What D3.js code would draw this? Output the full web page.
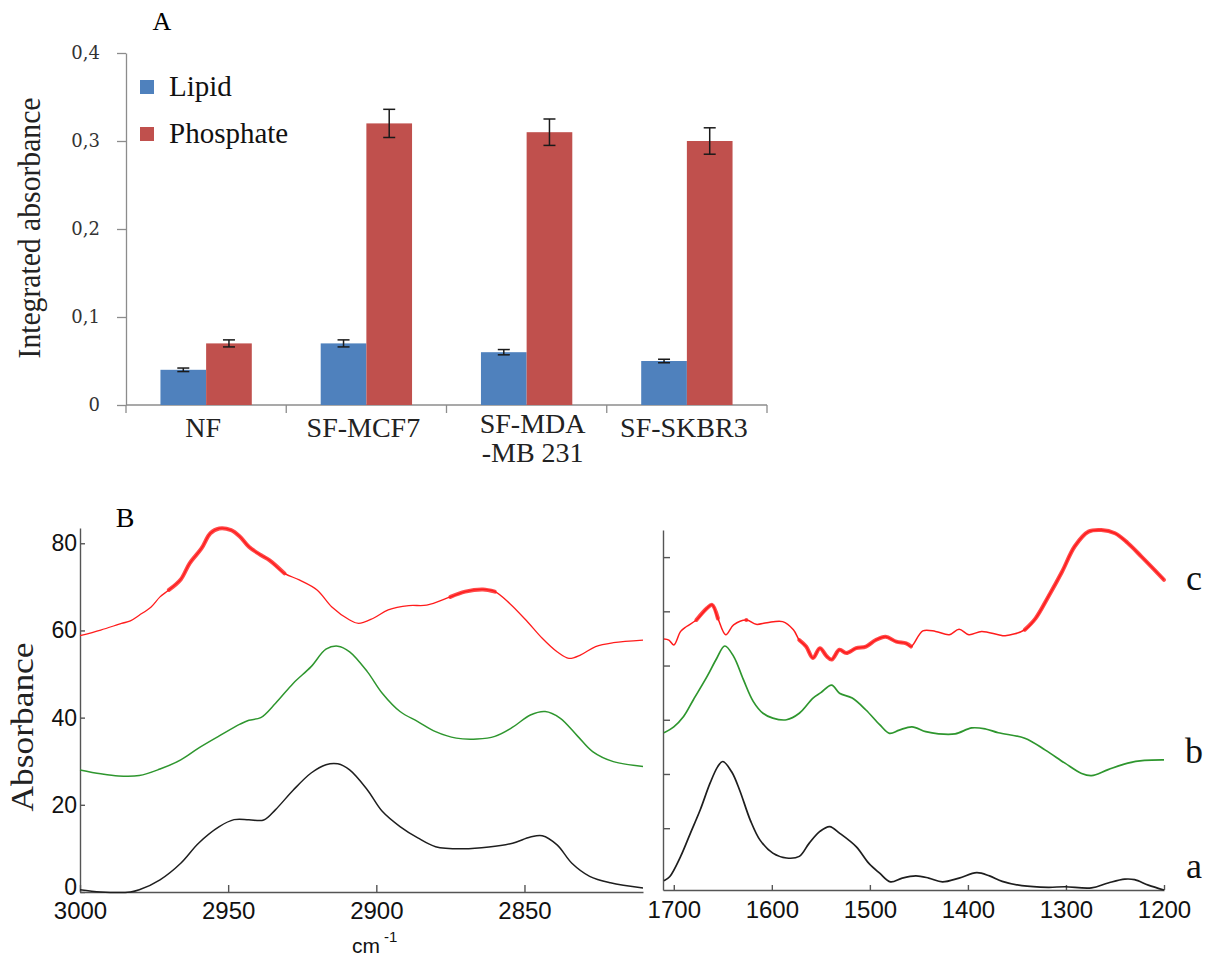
<!DOCTYPE html>
<html>
<head>
<meta charset="utf-8">
<script src="https://cdn.jsdelivr.net/npm/d3@7"></script>
<style>
body { margin: 0; background: #fff; }
svg { display: block; }
.serif { font-family: "Liberation Serif", "Times New Roman", serif; }
.sans { font-family: "Liberation Sans", Arial, sans-serif; }
.axA path, .axA line { stroke: #8c8c8c; stroke-width: 1.3; }
.axA text { font-family: "DejaVu Serif", serif; font-size: 18px; fill: #333; }
.axB path, .axB line { stroke: #555; stroke-width: 1.4; }
.axB text { font-family: "Liberation Sans", Arial, sans-serif; fill: #111; }
</style>
</head>
<body>
<div id="chart"></div>
<script>
// panel A : integrated absorbance
var categories = ["NF", "SF-MCF7", "SF-MDA-MB 231", "SF-SKBR3"];
var catLabels = [["NF"], ["SF-MCF7"], ["SF-MDA", "-MB 231"], ["SF-SKBR3"]];
var seriesNames = ["Lipid", "Phosphate"];
var seriesColors = ["#4f81bd", "#c0504d"];
var lipid = [0.04, 0.07, 0.06, 0.05];
var lipidErr = [0.002, 0.004, 0.003, 0.002];
var phosphate = [0.07, 0.32, 0.31, 0.30];
var phosphateErr = [0.004, 0.016, 0.015, 0.015];
var yTicksA = [0, 0.1, 0.2, 0.3, 0.4];

// panel B : spectra, [wavenumber, absorbance]
// CH stretching region (left)
var a_CH = [[3000,0.5],[2993,0],[2983,0],[2980,0.5],[2973,2.8],[2966,6.6],[2960,11.2],[2953,15.0],[2948,16.6],[2943,16.6],[2938,16.5],[2934,18.9],[2928,23.4],[2922,27.3],[2917,29.2],[2913,29.4],[2909,28.0],[2903,23.4],[2898,18.5],[2892,15.0],[2886,12.4],[2880,10.4],[2871,9.9],[2862,10.3],[2854,11.2],[2848,12.6],[2844,12.9],[2839,10.8],[2834,6.6],[2828,3.6],[2821,2.1],[2810,0.9]];
var b_CH = [[3000,28.0],[2993,27.1],[2987,26.6],[2980,26.7],[2973,28.2],[2966,30.3],[2960,33.0],[2953,35.8],[2946,38.5],[2943,39.4],[2939,40.0],[2934,43.3],[2928,47.9],[2922,51.7],[2917,55.7],[2913,56.4],[2909,55.1],[2903,50.5],[2898,45.6],[2892,41.4],[2886,39.1],[2880,36.8],[2873,35.3],[2866,35.1],[2860,35.7],[2854,37.8],[2848,40.6],[2843,41.4],[2838,39.9],[2832,35.7],[2827,32.2],[2820,29.9],[2810,28.8]];
var c_CH = [[3000,58.8],[2993,60.1],[2986,61.6],[2983,62.2],[2980,63.5],[2976,65.4],[2973,67.7],[2970,69.3],[2966,71.7],[2963,75.4],[2959,78.8],[2956,82.3],[2953,83.4],[2949,83.0],[2946,81.5],[2943,79.2],[2939,77.3],[2936,76.1],[2931,73.1],[2926,71.6],[2920,69.3],[2915,65.4],[2909,62.4],[2906,61.6],[2901,62.8],[2896,64.7],[2889,65.7],[2883,65.8],[2875,67.7],[2870,68.9],[2864,69.4],[2860,68.9],[2855,66.2],[2849,62.0],[2844,58.2],[2839,55.1],[2835,53.6],[2831,54.4],[2826,56.3],[2820,57.2],[2810,57.8]];
// fingerprint region (right)
var a_FP = [[1710,0.3],[1704,1.1],[1693,4.8],[1683,9.1],[1673,13.4],[1663,18.3],[1655,21.4],[1650,22.3],[1641,20.4],[1633,17.1],[1622,11.5],[1612,7.8],[1599,5.4],[1585,4.5],[1572,4.8],[1562,7.2],[1551,9.4],[1541,10.3],[1531,9.1],[1514,6.6],[1501,3.5],[1490,1.7],[1479,0.1],[1467,0.8],[1453,1.2],[1440,0.8],[1426,0.1],[1409,0.8],[1391,1.8],[1378,1.2],[1365,0.2],[1345,-0.6],[1318,-0.9],[1301,-0.8],[1274,-1.0],[1257,-0.1],[1240,0.6],[1230,0.5],[1216,-0.5],[1200,-1.4]];
var b_FP = [[1710,27.6],[1700,28.7],[1690,30.6],[1680,33.7],[1666,38.0],[1656,41.4],[1648,43.6],[1639,41.7],[1629,37.4],[1619,33.4],[1609,31.2],[1599,30.3],[1585,30.0],[1572,31.2],[1558,34.0],[1550,35.0],[1539,36.4],[1531,34.9],[1518,34.0],[1504,31.8],[1490,29.1],[1480,27.5],[1470,28.1],[1457,28.7],[1443,27.8],[1430,27.4],[1413,27.4],[1396,28.5],[1382,28.3],[1369,27.6],[1342,26.6],[1321,24.4],[1301,22.0],[1284,20.1],[1274,19.7],[1257,20.8],[1237,22.0],[1220,22.5],[1200,22.6]];
var c_FP = [[1710,44.9],[1705,44.7],[1700,43.8],[1693,46.3],[1687,47.2],[1677,48.4],[1666,50.6],[1661,51.2],[1655,48.7],[1647,45.7],[1639,47.5],[1626,48.4],[1616,47.6],[1605,47.9],[1589,48.1],[1578,46.6],[1572,44.7],[1565,43.5],[1558,41.4],[1551,43.2],[1544,41.7],[1539,41.1],[1531,42.9],[1524,42.3],[1514,43.2],[1504,43.5],[1494,44.7],[1484,45.3],[1473,44.4],[1463,44.1],[1458,43.5],[1446,46.4],[1433,46.3],[1419,45.7],[1409,46.7],[1399,45.7],[1386,46.3],[1369,45.7],[1362,45.5],[1342,46.6],[1331,48.7],[1318,52.7],[1304,57.3],[1291,62.0],[1277,64.7],[1264,65.0],[1250,64.4],[1237,62.6],[1223,60.1],[1210,57.7],[1200,55.8]];
// wavenumber ranges where trace c is noisy (drawn thicker)
var noisyCH = [[2972, 2928], [2877, 2856]];
var noisyFP = [[1680, 1655], [1636, 1622], [1575, 1458], [1342, 1200]];

var xTicksCH = [3000, 2950, 2900, 2850];
var yTicksCH = [0, 20, 40, 60, 80];
var xTicksFP = [1700, 1600, 1500, 1400, 1300, 1200];
var yTicksFP = [10, 20, 30, 40, 50, 60];
var traceColors = {a: "#1e1e1e", b: "#2e962e", c: "#ff1c1c"};

var svg = d3.select("#chart").append("svg")
    .attr("width", 1209)
    .attr("height", 956);

// ---------- Panel A ----------
var xA = d3.scaleBand().domain(categories).range([126, 767]).paddingInner(0.43).paddingOuter(0.215);
var xSub = d3.scaleBand().domain(seriesNames).range([0, xA.bandwidth()]);
var yA = d3.scaleLinear().domain([0, 0.4]).range([405, 53]);

svg.append("text").attr("class", "serif")
    .attr("x", 162).attr("y", 30)
    .attr("text-anchor", "middle")
    .style("font-size", "26px")
    .text("A");

svg.append("g")
    .attr("class", "axA")
    .attr("transform", "translate(" + xA.range()[0] + ",0)")
    .call(d3.axisLeft(yA).tickValues(yTicksA).tickSize(9).tickSizeOuter(0).tickPadding(17)
        .tickFormat(function (d) {
            return d === 0 ? "0" : d3.format(".1f")(d).replace(".", ",");
        }));

// x axis line + category separators
var gx = svg.append("g").attr("class", "axA");
gx.append("line")
    .attr("x1", xA.range()[0]).attr("x2", xA.range()[1])
    .attr("y1", yA(0)).attr("y2", yA(0));
gx.selectAll(".sep")
    .data(d3.range(categories.length + 1))
    .enter().append("line")
    .attr("x1", function (i) { return xA.range()[0] + i * xA.step(); })
    .attr("x2", function (i) { return xA.range()[0] + i * xA.step(); })
    .attr("y1", yA(0)).attr("y2", yA(0) + 8);

var rows = categories.map(function (c, i) {
    return {cat: c, vals: [lipid[i], phosphate[i]], errs: [lipidErr[i], phosphateErr[i]], label: catLabels[i]};
});

var grp = svg.selectAll(".grp")
    .data(rows)
    .enter().append("g")
    .attr("transform", function (d) { return "translate(" + xA(d.cat) + ",0)"; });

grp.selectAll("rect")
    .data(function (d) { return d.vals.map(function (v, k) { return {s: seriesNames[k], v: v, e: d.errs[k], k: k}; }); })
    .enter().append("rect")
    .attr("x", function (d) { return xSub(d.s); })
    .attr("y", function (d) { return yA(d.v); })
    .attr("width", xSub.bandwidth())
    .attr("height", function (d) { return yA(0) - yA(d.v); })
    .attr("fill", function (d) { return seriesColors[d.k]; });

// error bars
var eb = grp.selectAll(".eb")
    .data(function (d) { return d.vals.map(function (v, k) { return {s: seriesNames[k], v: v, e: d.errs[k]}; }); })
    .enter().append("g")
    .attr("stroke", "#1a1a1a")
    .attr("stroke-width", 1.5);
eb.append("line")
    .attr("x1", function (d) { return xSub(d.s) + xSub.bandwidth() / 2; })
    .attr("x2", function (d) { return xSub(d.s) + xSub.bandwidth() / 2; })
    .attr("y1", function (d) { return yA(d.v + d.e); })
    .attr("y2", function (d) { return yA(d.v - d.e); });
[1, -1].forEach(function (sg) {
    eb.append("line")
        .attr("x1", function (d) { return xSub(d.s) + xSub.bandwidth() / 2 - 6; })
        .attr("x2", function (d) { return xSub(d.s) + xSub.bandwidth() / 2 + 6; })
        .attr("y1", function (d) { return yA(d.v + sg * d.e); })
        .attr("y2", function (d) { return yA(d.v + sg * d.e); });
});

// category labels (one or two lines)
grp.append("text")
    .attr("class", "serif")
    .attr("text-anchor", "middle")
    .style("font-size", "28px")
    .attr("fill", "#222")
    .each(function (d) {
        var t = d3.select(this);
        var y0 = d.label.length > 1 ? 433 : 437;
        d.label.forEach(function (l, j) {
            t.append("tspan").attr("x", xA.bandwidth() / 2 + (d.label.length > 1 ? 6 : -3)).attr("y", y0 + j * 29).text(l);
        });
    });

// legend
var leg = svg.selectAll(".leg")
    .data(seriesNames)
    .enter().append("g")
    .attr("transform", function (d, i) { return "translate(140," + (80 + i * 47) + ")"; });
leg.append("rect").attr("width", 14).attr("height", 14)
    .attr("fill", function (d, i) { return seriesColors[i]; });
leg.append("text").attr("class", "serif")
    .attr("x", 29).attr("y", 16)
    .style("font-size", "29px")
    .attr("fill", "#111")
    .text(function (d) { return d; });

svg.append("text").attr("class", "serif")
    .attr("transform", "translate(40,228) rotate(-90)")
    .attr("text-anchor", "middle")
    .attr("textLength", 261)
    .attr("lengthAdjust", "spacingAndGlyphs")
    .style("font-size", "31px")
    .attr("fill", "#222")
    .text("Integrated  absorbance");

// ---------- Panel B ----------
var xL = d3.scaleLinear().domain([3000, 2810]).range([80, 643]);
var yL = d3.scaleLinear().domain([0, 83.5]).range([892, 528]);
var xR = d3.scaleLinear().domain([1711, 1200]).range([663, 1164]);
var yR = d3.scaleLinear().domain([-1.4, 65]).range([890, 530]);

var axL = svg.append("g").attr("class", "axB");
axL.append("g").attr("transform", "translate(0," + yL(0) + ")")
    .call(d3.axisBottom(xL).tickValues(xTicksCH).tickSize(-7).tickSizeOuter(0).tickPadding(10).tickFormat(d3.format("d")))
    .selectAll("text").style("font-size", "24px");
axL.append("g").attr("transform", "translate(" + xL(3000) + ",0)")
    .call(d3.axisLeft(yL).tickValues(yTicksCH).tickSize(-5).tickSizeOuter(0).tickPadding(3))
    .selectAll("text").style("font-size", "23px")
    .attr("dy", function (d) { return d === 0 ? "0.1em" : "0.32em"; });

var axR = svg.append("g").attr("class", "axB");
axR.append("g").attr("transform", "translate(0," + yR.range()[0] + ")")
    .call(d3.axisBottom(xR).tickValues(xTicksFP).tickSize(-5).tickSizeOuter(0).tickPadding(11).tickFormat(d3.format("d")))
    .selectAll("text").style("font-size", "24px");
axR.append("g").attr("transform", "translate(" + xR.range()[0] + ",0)")
    .call(d3.axisLeft(yR).tickValues(yTicksFP).tickSize(-7).tickSizeOuter(0).tickFormat(""));

function drawTrace(data, x, y, color, w, noisy) {
    var line = d3.line()
        .x(function (d) { return x(d[0]); })
        .y(function (d) { return y(d[1]); })
        .curve(d3.curveCatmullRom.alpha(0.5));
    svg.append("path")
        .attr("d", line(data))
        .attr("fill", "none")
        .attr("stroke", color)
        .attr("stroke-width", w)
        .attr("stroke-linejoin", "round");
    (noisy || []).forEach(function (r) {
        var seg = data.filter(function (d) { return d[0] <= r[0] && d[0] >= r[1]; });
        svg.append("path")
            .attr("d", line(seg))
            .attr("fill", "none")
            .attr("stroke", color)
            .attr("stroke-width", 4)
            .attr("stroke-opacity", 0.8)
            .attr("stroke-linecap", "round");
    });
}

drawTrace(c_CH, xL, yL, traceColors.c, 1.3, noisyCH);
drawTrace(b_CH, xL, yL, traceColors.b, 1.5);
drawTrace(a_CH, xL, yL, traceColors.a, 1.5);
drawTrace(c_FP, xR, yR, traceColors.c, 1.5, noisyFP);
drawTrace(b_FP, xR, yR, traceColors.b, 1.7);
drawTrace(a_FP, xR, yR, traceColors.a, 1.7);

svg.append("text").attr("class", "serif")
    .attr("x", 125).attr("y", 527)
    .attr("text-anchor", "middle")
    .style("font-size", "28px")
    .text("B");

svg.append("text").attr("class", "serif")
    .attr("transform", "translate(33,727) rotate(-90)")
    .attr("text-anchor", "middle")
    .attr("textLength", 169)
    .attr("lengthAdjust", "spacingAndGlyphs")
    .style("font-size", "31px")
    .attr("fill", "#222")
    .text("Absorbance");

var cm = svg.append("text").attr("class", "sans")
    .attr("x", 352).attr("y", 953)
    .style("font-size", "21px")
    .attr("fill", "#111");
cm.append("tspan").text("cm");
cm.append("tspan").attr("dx", 4).attr("dy", -11).style("font-size", "15px").text("-1");

// trace names
svg.selectAll(".tname")
    .data([["c", 590], ["b", 763], ["a", 878]])
    .enter().append("text")
    .attr("class", "serif")
    .attr("x", 1194).attr("y", function (d) { return d[1]; })
    .attr("text-anchor", "middle")
    .style("font-size", "36px")
    .attr("fill", "#111")
    .text(function (d) { return d[0]; });
</script>
</body>
</html>
